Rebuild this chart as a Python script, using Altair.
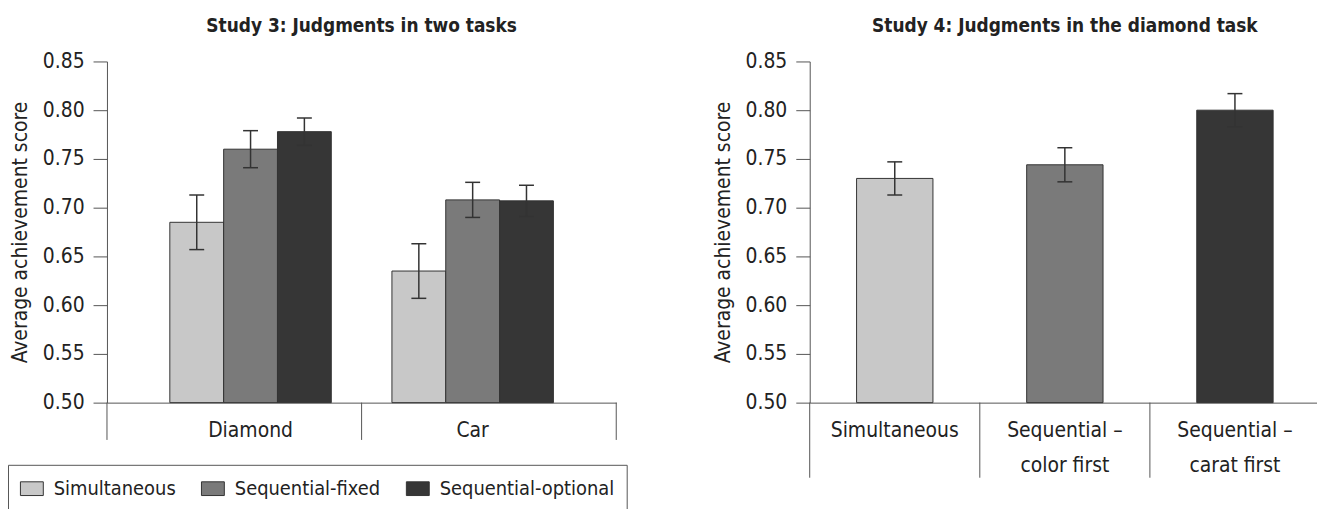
import altair as alt
import pandas as pd

# ---------------- data ----------------
tasks = ["Diamond", "Car"]
conditions3 = ["Simultaneous", "Sequential-fixed", "Sequential-optional"]
sim_means = [0.685, 0.635]
fixed_means = [0.760, 0.708]
opt_means = [0.778, 0.707]
sim_err = [0.028, 0.028]
fixed_err = [0.019, 0.018]
opt_err = [0.014, 0.016]

conditions4 = ["Simultaneous", "Sequential –\ncolor first", "Sequential –\ncarat first"]
means4 = [0.730, 0.744, 0.800]
err4 = [0.017, 0.0175, 0.017]

grays = ["#c8c8c8", "#7a7a7a", "#363636"]
y_ticks = [0.50, 0.55, 0.60, 0.65, 0.70, 0.75, 0.80, 0.85]
title3 = "Study 3: Judgments in two tasks"
title4 = "Study 4: Judgments in the diamond task"
y_title = "Average achievement score"

COND = "DejaVu Sans Condensed"

# ---------------- tables ----------------
rows3 = []
for cond, means, errs in zip(conditions3, [sim_means, fixed_means, opt_means], [sim_err, fixed_err, opt_err]):
    for t, m, e in zip(tasks, means, errs):
        rows3.append({"task": t, "cond": cond, "mean": m, "lo": m - e, "hi": m + e})
df3 = pd.DataFrame(rows3)

df4 = pd.DataFrame({"cond": conditions4, "mean": means4,
                    "lo": [m - e for m, e in zip(means4, err4)],
                    "hi": [m + e for m, e in zip(means4, err4)]})

yscale = alt.Scale(domain=[0.5, 0.85], zero=False, nice=False)

W, H = 512, 343
PAD_L, PAD_T = 99.5, 51.5
SVG_W, SVG_H = 1316, 497

# ---------------- Study 3 ----------------
x3 = alt.X("task:N", sort=tasks, title=None,
           scale=alt.Scale(paddingInner=0.273, paddingOuter=0.283))
xo3 = alt.XOffset("cond:N", sort=conditions3, scale=alt.Scale(paddingInner=0, paddingOuter=0))

base3 = alt.Chart(df3)
bars3 = base3.mark_bar(stroke="#333", strokeWidth=1).encode(
    x=x3, xOffset=xo3,
    y=alt.Y("mean:Q", scale=yscale, title=y_title,
            axis=alt.Axis(values=y_ticks, format=".2f")),
    y2=alt.datum(0.5),
    color=alt.Color("cond:N", sort=conditions3,
                    scale=alt.Scale(domain=conditions3, range=grays),
                    legend=alt.Legend(
                        title=None, orient="none", legendX=-99.5, legendY=405.5,
                        direction="horizontal", columns=3,
                        symbolType="M-1,-0.6H1V0.6H-1Z", symbolSize=529,
                        symbolStrokeColor="#333", symbolStrokeWidth=1, symbolOpacity=1,
                        labelFont=COND, labelFontSize=20, labelColor="#222", labelLimit=400,
                        labelOffset=10, columnPadding=23, padding=12,
                        strokeColor="#555", fillColor="white")),
)
err3 = base3.mark_rule(color="#333", strokeWidth=1.5).encode(
    x=x3, xOffset=xo3,
    y=alt.Y("lo:Q", scale=yscale, title=y_title), y2="hi:Q")
caps3 = base3.transform_fold(["lo", "hi"], as_=["k", "v"]).mark_tick(
    color="#333", thickness=1.5, size=15, opacity=1).encode(
    x=x3, xOffset=xo3, y=alt.Y("v:Q", scale=yscale, title=y_title))

div3 = alt.Chart(pd.DataFrame({"b": list(range(len(tasks) + 1))})).mark_rule(
    color="#555", strokeWidth=1).encode(
    x=alt.X("b:Q", scale=alt.Scale(domain=[0, len(tasks)], nice=False, zero=False), axis=None),
    y=alt.value(H), y2=alt.value(H + 37.5))

left = alt.layer(alt.layer(bars3, err3, caps3), div3).resolve_scale(x="independent").properties(
    width=W, height=H, title=title3)

# ---------------- Study 4 ----------------
x4 = alt.X("cond:N", sort=conditions4, title=None,
           scale=alt.Scale(paddingInner=0, paddingOuter=0),
           axis=alt.Axis(labelExpr="split(datum.label, '\\n')"))
base4 = alt.Chart(df4)
bars4 = base4.mark_bar(stroke="#333", strokeWidth=1, width=alt.RelativeBandSize(0.449)).encode(
    x=x4,
    y=alt.Y("mean:Q", scale=yscale, title=y_title,
            axis=alt.Axis(values=y_ticks, format=".2f")),
    y2=alt.datum(0.5),
    color=alt.Color("cond:N", sort=conditions4,
                    scale=alt.Scale(domain=conditions4, range=grays), legend=None),
)
err4_l = base4.mark_rule(color="#333", strokeWidth=1.5).encode(
    x=x4, y=alt.Y("lo:Q", scale=yscale, title=y_title), y2="hi:Q")
caps4 = base4.transform_fold(["lo", "hi"], as_=["k", "v"]).mark_tick(
    color="#333", thickness=1.5, size=15, opacity=1).encode(
    x=x4, y=alt.Y("v:Q", scale=yscale, title=y_title))
div4 = alt.Chart(pd.DataFrame({"b": list(range(len(conditions4) + 1))})).mark_rule(
    color="#555", strokeWidth=1).encode(
    x=alt.X("b:Q", scale=alt.Scale(domain=[0, len(conditions4)], nice=False, zero=False), axis=None),
    y=alt.value(H), y2=alt.value(H + 75.5))

right = alt.layer(alt.layer(bars4, err4_l, caps4), div4).resolve_scale(x="independent").properties(
    width=W + 1, height=H, title=title4)

chart = alt.hconcat(left, right, spacing=84.5).resolve_scale(color="independent").resolve_legend(
    color="independent").properties(
    autosize=alt.AutoSizeParams(type="none"),
    padding={"left": PAD_L, "top": PAD_T, "right": SVG_W - PAD_L, "bottom": SVG_H - PAD_T}
).configure_view(stroke=None).configure_axis(
    labelFont=COND, labelFontSize=21, labelColor="#222",
    domainColor="#555", tickColor="#555", grid=False,
    titleFont=COND, titleFontSize=21, titleFontWeight="normal", titleColor="#222",
).configure_axisY(
    tickSize=14, labelPadding=9, titlePadding=12, domainWidth=1, tickWidth=1,
).configure_axisX(
    ticks=False, tickSize=0, labelPadding=17, labelAngle=0, labelFontSize=21, labelLineHeight=35,
).configure_title(
    font=COND, fontSize=19, fontWeight="bold", color="#222", offset=15, anchor="middle",
    frame="group",
)

chart.save("out.html", embed_options={"renderer": "svg", "actions": False})
